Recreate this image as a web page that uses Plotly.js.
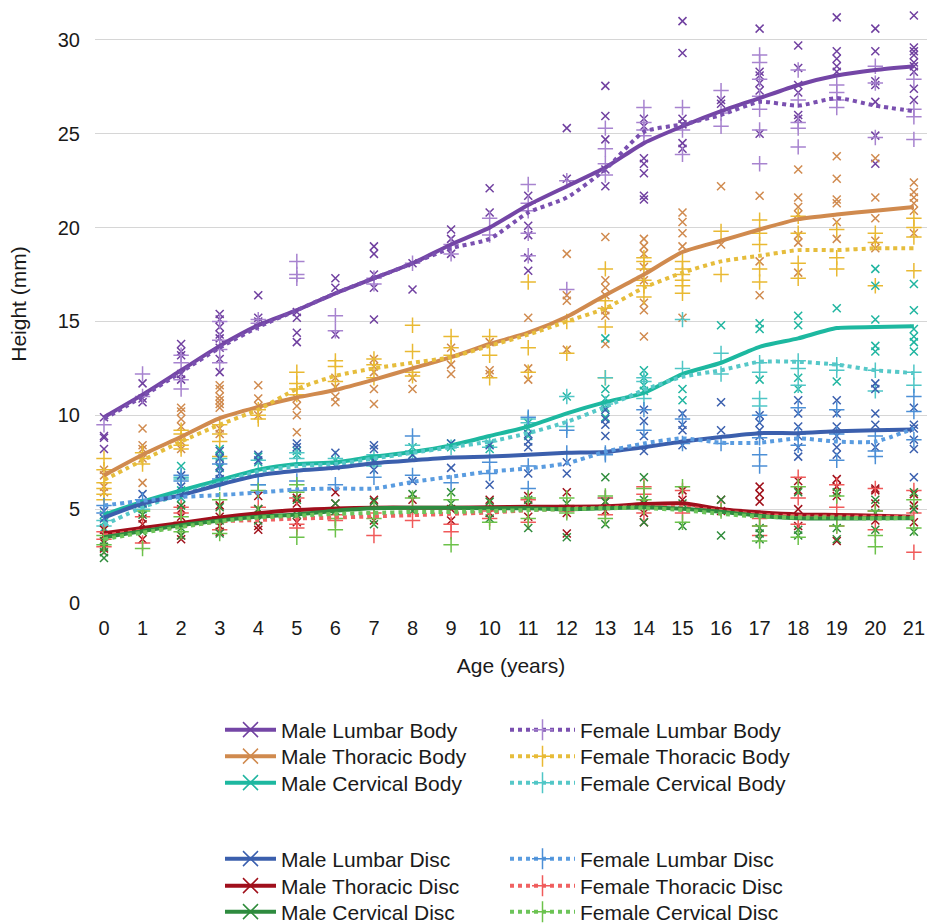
<!DOCTYPE html>
<html>
<head>
<meta charset="utf-8">
<script src="https://cdn.plot.ly/plotly-3.0.1.min.js"></script>
<style>
html,body{margin:0;padding:0;background:#fff;}
#chart{width:927px;height:924px;}
</style>
</head>
<body>
<div id="chart"></div>
<script>
// ---------------- DATA ----------------
const ages = [0,1,2,3,4,5,6,7,8,9,10,11,12,13,14,15,16,17,18,19,20,21];
const seriesNames = [
  "Male Lumbar Body","Female Lumbar Body",
  "Male Thoracic Body","Female Thoracic Body",
  "Male Cervical Body","Female Cervical Body",
  "Male Lumbar Disc","Female Lumbar Disc",
  "Male Thoracic Disc","Female Thoracic Disc",
  "Male Cervical Disc","Female Cervical Disc"
];

// smoothed trend lines (value at each age)
const mLumbarBodyLine   = [9.9,11.1,12.4,13.7,14.8,15.6,16.5,17.3,18.1,19.1,20.0,21.2,22.2,23.2,24.5,25.4,26.2,26.9,27.6,28.1,28.4,28.6];
const fLumbarBodyLine   = [9.8,11.0,12.3,13.6,14.7,15.6,16.5,17.3,18.1,18.9,19.4,20.8,21.6,23.1,25.1,25.5,26.0,26.7,26.5,26.9,26.5,26.2];
const mThoracicBodyLine = [6.8,7.9,8.85,9.85,10.45,10.95,11.35,11.9,12.5,13.1,13.8,14.4,15.25,16.4,17.5,18.7,19.3,19.9,20.45,20.7,20.9,21.1];
const fThoracicBodyLine = [6.55,7.6,8.6,9.5,10.3,11.4,12.1,12.5,12.8,13.1,13.7,14.3,15.0,15.7,16.8,17.6,18.2,18.5,18.8,18.8,18.9,18.9];
const mCervicalBodyLine = [4.7,5.4,6.0,6.55,7.1,7.4,7.5,7.8,8.05,8.4,8.9,9.4,10.1,10.7,11.2,12.2,12.8,13.65,14.1,14.65,14.7,14.75];
const fCervicalBodyLine = [4.15,5.1,5.8,6.4,7.0,7.3,7.4,7.7,8.0,8.3,8.6,9.05,9.65,10.45,11.35,12.05,12.4,12.85,12.85,12.7,12.4,12.25];
const mLumbarDiscLine   = [4.55,5.3,5.75,6.3,6.8,7.05,7.2,7.45,7.6,7.75,7.8,7.9,8.0,8.05,8.3,8.6,8.85,9.05,9.05,9.15,9.2,9.25];
const fLumbarDiscLine   = [5.2,5.45,5.65,5.75,5.88,6.05,6.1,6.1,6.45,6.73,7.0,7.17,7.44,8.06,8.5,8.77,8.54,8.54,8.77,8.6,8.6,9.3];
const mThoracicDiscLine = [3.72,4.0,4.26,4.55,4.78,4.95,5.04,5.08,5.08,5.08,5.1,5.13,5.13,5.15,5.27,5.31,4.99,4.83,4.72,4.69,4.65,4.6];
const fThoracicDiscLine = [3.6,3.85,4.1,4.35,4.42,4.5,4.55,4.62,4.68,4.75,4.82,4.95,5.02,5.08,5.12,5.1,4.9,4.7,4.62,4.6,4.6,4.6];
const mCervicalDiscLine = [3.5,3.83,4.15,4.4,4.6,4.72,4.92,5.05,5.07,5.07,5.05,5.05,5.0,5.05,5.1,5.02,4.86,4.65,4.51,4.5,4.51,4.52];
const fCervicalDiscLine = [3.4,3.75,4.05,4.35,4.55,4.65,4.75,4.8,4.85,4.85,4.9,4.95,5.0,5.05,5.05,4.95,4.75,4.6,4.55,4.55,4.5,4.55];

// individual measurements, one list per age
const mLumbarBodyPts = [
  [9.9,8.9,8.8,8.2],[11.7,10.7,10.9],[13.8,13.4,13.2,12.2,11.9],[15.4,15.1,14.7,14.3,14.1,13.6,13.0,12.3],
  [16.4,15.2,15.0],[15.2,14.4,13.9,15.5],[17.3,16.8,14.3],[19.0,18.6,16.8,15.1,17.5],[16.7,18.1],
  [19.9,19.4,18.6],[22.1,20.8],[21.7,20.1,19.6,18.4,17.7],[25.3,22.6],[27.55,25.95,24.7,22.2,23.1],
  [25.8,25.4,23.7,23.4,22.9,21.7,21.5],[31.0,29.3,25.8,25.5,24.5,24.2],[26.8,26.6],
  [30.6,28.3,28.1,27.7,27.3,25.0],[29.7,28.5,27.6,27.2,26.0,25.8],[31.2,29.4,29.0,28.6,28.3],
  [30.6,29.4,27.8,27.6,26.7,24.9,23.4],[31.3,29.6,29.4,29.2,28.8,28.6,28.3,27.4,26.8]
];
const fLumbarBodyPts = [
  [9.5],[12.2,11.0],[13.2,12.8,11.9,11.4],[15.0,14.0,13.5,12.8],[14.9,15.1],[18.2,17.5,17.3],
  [15.3,14.5],[17.0,17.3],[18.1],[19.1,18.6],[20.5,19.6],[22.3,20.9,19.7,18.5,21.3],[16.7,22.5],
  [25.3,24.2,23.4,22.8],[26.4,24.9,25.6,25.2],[26.4,23.9,25.2],[27.3,25.4,26.1],
  [29.2,28.8,27.9,27.0,26.3,25.2,23.4],[28.4,25.6,25.3,24.3,26.8],[27.2,26.8,26.4,27.6],
  [28.6,27.7,24.8],[27.9,26.3,25.9,24.7]
];
const mThoracicBodyPts = [
  [7.1,6.8,6.2,5.9],[9.3,8.4,8.2,7.7,6.4],[10.4,10.2,9.8,9.4,8.6,8.2],[11.6,11.4,11.0,10.8,10.6,10.4,9.3,9.0],
  [11.6,10.9,10.5,10.0],[10.9,10.5,10.0,9.1],[12.0,11.0,10.7,11.5],[13.0,12.6,12.3,11.4,10.6],[12.0,11.4],
  [13.6,12.7,12.2],[13.9,12.4,12.2],[15.2,11.9,12.5],[18.6,16.4,16.1,13.5],[19.5,17.2,16.8,16.4,15.6,15.3,13.8],
  [19.4,19.0,18.6,17.9,17.2,16.0,15.6,14.2],[20.8,20.3,19.7,19.0,15.2],[22.2,19.1],[21.7,18.2,16.4],
  [23.1,21.6,21.1,20.7,19.6,19.2,17.6],[23.8,22.6,21.5,21.3,20.3,19.4],[23.7,21.6,20.5,19.3,18.9],
  [22.4,21.9,21.6,21.3,20.9,19.7]
];
const fThoracicBodyPts = [
  [7.7,7.1,6.4,6.1,5.8,5.5],[8.0,7.7,7.4],[9.2,9.0,8.7,8.4,8.2],[9.5,9.0,8.6,7.8],[10.3,10.0,9.8],
  [12.3,11.7,11.4,11.1],[12.9,12.6,11.8],[13.0,12.7,12.0],[14.8,13.4,12.3,12.1],[14.2,13.6,13.2],
  [14.2,13.2,12.0],[17.1,13.6,12.3],[13.3,15.0],[17.8,16.1,15.7,14.7,12.0],[18.4,18.2,17.8,17.2,16.3,16.9],
  [18.2,17.8,17.5,17.2,16.9,16.5],[19.8,17.5],[20.4,19.7,19.1,17.8,17.1],[20.6,19.7,18.1,17.3],
  [19.9,18.4,17.8],[19.7,19.2,16.9],[20.5,20.0,19.5,17.7]
];
const mCervicalBodyPts = [
  [4.7,4.3,4.0],[5.3,5.0],[7.3,6.0,5.6],[8.2,7.8,7.2,6.5],[7.8,7.5],[8.1,7.9],[7.6],[7.5,7.6],[8.3,7.9],
  [8.5,8.3],[8.5,8.2],[9.6,9.3,8.9],[11.0],[14.1,11.4,10.9,10.4,9.9],[12.4,12.0,11.6,11.3],[11.4,10.8],
  [14.8],[14.9,14.6,11.9],[15.3,14.8,12.0,11.4],[15.7,11.8],[17.8,16.9,15.1,13.7,13.4],
  [17.0,15.6,14.6,14.2,13.9,13.4]
];
const fCervicalBodyPts = [
  [4.4,4.1],[5.0],[6.7,6.6],[7.7,6.4],[7.6,6.3],[8.0,7.7],[7.7],[7.9,7.3],[8.4,8.1],[8.3],[8.6,8.3],
  [9.8,9.6],[9.4,11.0],[12.0,10.6],[12.0,11.8,10.9],[12.5,15.1],[13.3,12.2],[12.8,12.3,10.9,10.5],
  [12.9,12.5,11.6],[12.4,12.7],[12.4,11.3],[12.3,11.6]
];
const mLumbarDiscPts = [
  [4.9,4.5],[5.8,5.3],[6.8,6.2,5.8],[8.1,7.7,7.3,6.9,6.6],[7.9,7.6],[8.5,8.3],[8.0,7.3],[8.4,8.2,7.6,7.1],
  [6.5,7.9],[8.5,7.2],[8.4,6.3],[9.0,8.6,8.3,6.9],[6.9,7.5],[10.3,9.8,9.5,8.9],[10.3,9.7,8.9,8.1],
  [10.1,9.5,9.2,8.4],[10.7,9.2],[10.0,9.6,9.2,8.9],[10.8,10.1,9.4,8.9,8.3,7.8],[10.8,10.1,9.4,8.9,8.3,7.9],
  [11.7,11.4,10.1,9.5,8.3],[10.4,9.5,9.3,8.7,8.2,6.7]
];
const fLumbarDiscPts = [
  [5.2,4.8],[5.5],[6.8,6.5],[7.4,6.6],[6.3,5.9],[6.0,6.5],[6.3],[6.7],[8.9,6.8],[6.4],[7.5,6.9],
  [9.9,7.3,6.1],[9.2,8.0],[8.0,7.9,5.6],[10.3,9.2],[9.8,8.5],[8.5],[10.0,7.9,7.3,8.8],[10.4,8.4,9.0],
  [10.3,9.0,7.6],[8.9,8.1,7.8],[11.0,10.2,8.7]
];
const mThoracicDiscPts = [
  [3.9,3.6,3.2,2.9],[4.5,4.2,3.4],[5.0,4.6,3.6,3.4],[5.2,4.6,4.1,3.8],[5.7,5.0,4.1,3.9],[5.6,5.3,4.3],
  [5.9,5.3],[5.5,4.4],[5.5],[5.0,4.4],[5.5,4.8],[5.7,5.2,4.6],[5.9,4.8,3.7],[5.4,4.9],[5.3,4.8,4.3],
  [6.0,5.5],[5.5,4.9],[6.2,5.8,5.4],[6.5,6.0,5.0,4.1],[6.6,6.2,5.7,3.3],[6.1,6.0,5.3,4.4],[5.8,5.2,4.3]
];
const fThoracicDiscPts = [
  [3.8,3.4,3.0],[4.6,3.2],[5.1,4.8,4.3],[4.6,4.3,3.9],[5.1,4.7],[5.6,4.2,4.0],[4.7,4.4],[4.8,3.6],
  [5.1,4.4],[4.2,3.8],[4.9,4.5],[5.5,4.3],[5.2,4.9],[5.6,5.0,4.7],[6.2,5.8,4.8],[6.0,4.8],[5.0],
  [4.5,4.1,3.6],[6.7,5.6,4.2],[6.3,5.1,4.1],[6.1,4.9,3.9],[6.0,4.8,2.7]
];
const mCervicalDiscPts = [
  [3.3,3.0,2.7,2.4],[4.7,3.8],[5.2,4.0,3.6],[5.1,4.4,3.7],[5.0,4.4],[5.5,4.7],[5.3,4.9],[5.4,4.2],
  [5.8,4.9],[5.9,5.3],[5.4,4.5],[5.5,4.0],[5.3,3.5],[6.7,5.4,4.2],[6.7,5.5,4.3],[5.3,4.1],[5.5,3.6],
  [4.0,3.7,3.4],[5.9,3.9,3.6],[5.9,4.0,3.4],[5.5,4.8,3.9],[5.9,5.0,3.8]
];
const fCervicalDiscPts = [
  [3.6,3.1],[4.9,2.9],[4.6,3.8],[5.5,4.5,3.7],[6.0,4.8],[6.3,5.9,3.5],[4.5,3.9],[5.0,4.5],[5.6],
  [5.5,3.1],[5.1,4.3],[5.6,4.5],[5.6,4.8],[5.7,4.5],[6.1,5.5,5.1],[6.2,4.3],[4.9],[4.1,3.3],
  [6.2,3.5],[5.7,4.1],[4.9,3.6,3.0],[5.5,4.0]
];

const yTickVals = [0,5,10,15,20,25,30];

// ---------------- STYLE ----------------
const lineData = [mLumbarBodyLine,fLumbarBodyLine,mThoracicBodyLine,fThoracicBodyLine,mCervicalBodyLine,fCervicalBodyLine,
                  mLumbarDiscLine,fLumbarDiscLine,mThoracicDiscLine,fThoracicDiscLine,mCervicalDiscLine,fCervicalDiscLine];
const ptData = [mLumbarBodyPts,fLumbarBodyPts,mThoracicBodyPts,fThoracicBodyPts,mCervicalBodyPts,fCervicalBodyPts,
                mLumbarDiscPts,fLumbarDiscPts,mThoracicDiscPts,fThoracicDiscPts,mCervicalDiscPts,fCervicalDiscPts];
const lineColors = ["#7446a6","#7a50b0","#d08a4e","#e6bd3c","#1db8a0","#56c8c8",
                    "#3b5fad","#5a9ce0","#a00f1c","#f06262","#2e8b3f","#6cc45a"];
const markColors = ["#7040a0","#a783cf","#d08a4e","#e9b932","#1fb5a0","#4fc6c6",
                    "#3a5fae","#4c8fd6","#a0101a","#f05a5a","#2e8b3a","#6cc24a"];

const traces = [];
// scatter measurements
ptData.forEach((pts, i) => {
  const xs = [], ys = [];
  pts.forEach((vals, a) => vals.forEach(v => { xs.push(ages[a]); ys.push(v); }));
  const male = i % 2 === 0;
  traces.push({
    type: "scatter", mode: "markers", x: xs, y: ys, showlegend: false, hoverinfo: "skip",
    marker: {
      symbol: male ? "x-thin-open" : "cross-thin-open",
      size: male ? 8 : 11,
      color: markColors[i],
      line: {color: markColors[i], width: 1.5}
    }
  });
});
// trend lines
lineData.forEach((vals, i) => {
  const male = i % 2 === 0;
  traces.push({
    type: "scatter", mode: "lines", x: ages, y: vals, showlegend: false, hoverinfo: "skip",
    line: {color: lineColors[i], width: 4, shape: "spline", smoothing: 0.6, dash: male ? "solid" : "dot"}
  });
});

// legend: one legend box per entry, placed in a 2-column grid (two groups of three rows)
const fontFam = "Liberation Sans, Arial, sans-serif";
const legFont = {family: fontFam, size: 21, color: "#1a1a1a"};
const rowCenters = [730, 756.5, 783, 859, 886, 912];     // px from top
const plotTop = 5, plotH = 598, plotL = 95, plotW = 832;
const layoutLegends = {};
seriesNames.forEach((name, i) => {
  const male = i % 2 === 0;
  const row = Math.floor(i / 2);
  const id = i === 0 ? "legend" : "legend" + (i + 1);
  const xpx = male ? 220 : 505;
  layoutLegends[id] = {
    orientation: "v", xanchor: "left", yanchor: "middle",
    x: (xpx - plotL) / plotW, y: (plotTop + plotH - rowCenters[row]) / plotH,
    itemwidth: male ? 51 : 65, font: legFont, bgcolor: "rgba(0,0,0,0)", borderwidth: 0,
    itemclick: false, itemdoubleclick: false
  };
  traces.push({
    type: "scatter", mode: "lines+markers", x: [null], y: [null], name: name, legend: id,
    line: {color: lineColors[i], width: 4, dash: male ? "solid" : "dot"},
    marker: {symbol: male ? "x-thin-open" : "cross-thin-open", size: 15, color: markColors[i],
             line: {color: markColors[i], width: 1.5}}
  });
});

const layout = Object.assign({
  width: 927, height: 924,
  margin: {l: plotL, r: 0, t: plotTop, b: 924 - plotTop - plotH, autoexpand: false},
  paper_bgcolor: "#ffffff", plot_bgcolor: "#ffffff",
  font: {family: fontFam, color: "#1a1a1a"},
  showlegend: true,
  xaxis: {
    range: [-0.233, 21.34], tickmode: "array", tickvals: ages, ticktext: ages.map(String),
    showgrid: false, zeroline: false, showline: false, ticks: "",
    tickfont: {family: fontFam, size: 20, color: "#1a1a1a"}, ticklabelstandoff: 11,
    title: {text: "Age (years)", font: {family: fontFam, size: 21, color: "#1a1a1a"}, standoff: 20}
  },
  yaxis: {
    range: [0, 31.86], tickmode: "array", tickvals: yTickVals, ticktext: yTickVals.map(String),
    showgrid: true, gridcolor: "#d6d6d6", gridwidth: 1, zeroline: false, showline: false, ticks: "",
    tickfont: {family: fontFam, size: 20, color: "#1a1a1a"}, ticklabelstandoff: 14,
    title: {text: "Height (mm)", font: {family: fontFam, size: 21, color: "#1a1a1a"}, standoff: 25}
  }
}, layoutLegends);

Plotly.newPlot("chart", traces, layout, {displayModeBar: false, staticPlot: true});
</script>
</body>
</html>
